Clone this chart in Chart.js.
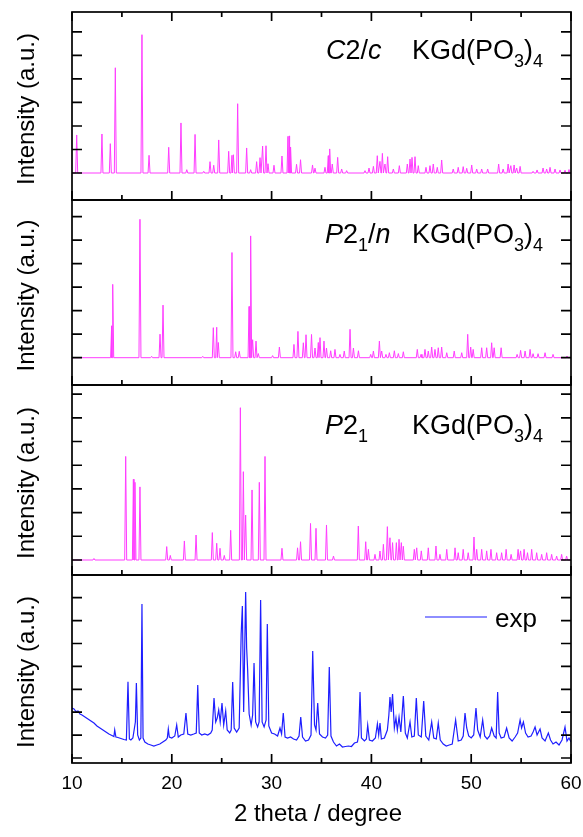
<!DOCTYPE html>
<html>
<head>
<meta charset="utf-8">
<title>KGd(PO3)4 XRD patterns</title>
<script src="https://cdn.jsdelivr.net/npm/chart.js@4/dist/chart.umd.min.js"></script>
<style>
  html, body { margin: 0; padding: 0; background: #ffffff; }
  #wrap { position: relative; width: 583px; height: 837px; }
  canvas { display: block; }
</style>
</head>
<body>
<div id="wrap"><canvas id="xrd" width="583" height="837"></canvas></div>
<script>
// ---- calculated patterns: [2theta (deg), relative intensity (%)] ----
const c2cPeaks = [
  [10.47, 27.5], [13.00, 28.2], [13.84, 21.2], [14.34, 76.1], [17.01, 100], [17.72, 12.8],
  [19.69, 18.6], [20.92, 36.2], [21.50, 2.4], [22.33, 27.9], [23.20, 1.2], [23.83, 8.2],
  [24.20, 5.6], [24.70, 23.9], [25.70, 15.7], [26.03, 12.8], [26.17, 13.2], [26.60, 50.1],
  [27.50, 18.1], [27.90, 2.4], [28.50, 8.2], [28.84, 11.1], [29.10, 19.5], [29.44, 19.7],
  [29.64, 6.7], [30.24, 5.6], [31.04, 12.3], [31.64, 26.5], [31.77, 26.8], [31.90, 18.8],
  [32.50, 6.3], [32.90, 9.6], [34.10, 5.8], [34.35, 3.5], [35.35, 4.1], [35.68, 12.5],
  [35.82, 17.4], [36.08, 6.5], [36.62, 11.3], [37.02, 2.9], [37.52, 1.7], [39.36, 1.7],
  [39.76, 3.6], [40.20, 4.8], [40.59, 12.5], [40.86, 8.4], [41.10, 14.2], [41.36, 6.5],
  [41.63, 11.8], [42.20, 2.9], [42.80, 5.3], [43.60, 6.5], [43.87, 10.1], [44.07, 11.3],
  [44.37, 11.8], [44.70, 5.3], [45.47, 4.1], [45.87, 5.3], [46.20, 6.5], [46.60, 4.1],
  [47.04, 9.4], [48.20, 2.9], [48.70, 4.1], [49.20, 4.6], [49.55, 3.4], [50.05, 5.8],
  [50.55, 2.9], [51.05, 2.9], [51.65, 2.9], [52.75, 6.5], [53.20, 2.9], [53.70, 6.5],
  [53.97, 5.3], [54.30, 5.8], [54.56, 3.6], [54.90, 4.8], [56.20, 1.2], [56.60, 2.2],
  [57.20, 3.6], [57.56, 2.9], [57.90, 4.1], [58.40, 2.9], [58.90, 2.2], [59.40, 2.0],
  [59.80, 2.5]
];

const p21nPeaks = [
  [13.97, 23], [14.08, 53], [16.81, 100], [17.98, 1], [18.82, 17], [19.12, 38],
  [23.10, 1], [24.16, 21.7], [24.50, 22], [24.66, 11], [26.03, 76], [26.40, 4.3],
  [26.76, 4.6], [27.74, 37], [27.90, 88], [28.10, 13], [28.44, 12], [28.67, 3],
  [30.10, 1.5], [30.78, 7.7], [32.24, 9.6], [32.64, 19], [33.18, 10.8], [33.45, 16.6],
  [34.00, 16.8], [34.35, 7], [34.68, 11], [34.85, 14.5], [35.25, 12], [35.50, 7],
  [35.92, 5], [36.35, 6], [36.85, 2.4], [37.28, 4.8], [37.86, 20.5], [38.20, 7],
  [38.70, 5], [39.93, 2.4], [40.20, 4.8], [40.80, 12], [41.03, 4.8], [41.46, 2.4],
  [41.80, 3.6], [42.30, 5], [42.70, 3], [43.20, 4.3], [44.60, 6], [44.97, 2.4],
  [45.37, 6], [45.70, 4.8], [46.04, 7.7], [46.37, 6], [46.70, 7.2], [47.04, 7.7],
  [47.55, 3.6], [48.30, 4.8], [49.05, 3.6], [49.65, 16.9], [49.95, 7.7], [50.20, 6],
  [51.05, 7.2], [51.55, 7.2], [52.05, 10.8], [52.30, 7.2], [53.00, 7.2], [54.60, 2.4],
  [54.95, 5.3], [55.40, 4.8], [55.90, 6], [56.20, 2.9], [56.70, 2.9], [57.40, 3.6],
  [58.20, 2.4], [59.60, 1.2]
];

const p21Peaks = [
  [12.20, 1], [15.38, 68], [16.15, 53], [16.31, 51], [16.81, 48], [19.49, 8.8],
  [19.85, 3], [21.26, 12.5], [22.43, 16.4], [24.06, 18], [24.50, 11], [24.83, 7.7],
  [25.26, 3], [25.90, 19.5], [26.87, 100], [27.17, 58], [27.40, 29.5], [28.04, 46],
  [28.77, 51], [29.34, 68], [31.04, 7.7], [32.60, 8], [32.90, 12], [33.90, 24],
  [34.45, 20.8], [35.50, 23], [36.20, 2.6], [38.69, 22.3], [39.43, 12], [39.70, 7],
  [40.36, 3.7], [40.86, 5.9], [41.20, 10.3], [41.60, 21.9], [41.86, 14.6], [42.12, 11.4],
  [42.50, 11.4], [42.77, 13.6], [43.00, 11.4], [43.20, 9], [44.30, 7], [44.54, 8],
  [45.00, 6], [45.70, 8], [46.47, 9.2], [46.87, 3.7], [47.55, 7], [48.38, 8],
  [48.70, 4.8], [49.20, 7], [49.70, 4.8], [50.28, 15.1], [50.55, 7], [51.05, 7],
  [51.55, 6], [51.98, 7], [52.55, 4.8], [53.05, 4.8], [53.50, 7], [54.00, 3.7],
  [54.70, 7], [54.95, 6], [55.30, 7], [55.64, 4.8], [56.06, 7], [56.56, 4.8],
  [57.06, 3.7], [57.56, 4.8], [58.06, 3.7], [58.56, 2.6], [59.06, 3.7], [59.56, 2.6]
];

// ---- measured pattern ----
const expTheta = [
  10.0, 10.2, 10.4, 10.6, 10.8, 11.0, 11.3, 11.6, 11.9, 12.2, 12.5, 12.8, 13.1, 13.4, 13.7, 14.0,
  14.2, 14.28, 14.4, 14.6, 14.9, 15.2, 15.45, 15.61, 15.75, 15.9, 16.1, 16.35, 16.45, 16.58, 16.75, 16.9,
  17.01, 17.12, 17.3, 17.6, 17.9, 18.2, 18.5, 18.8, 19.1, 19.4, 19.55, 19.65, 19.75, 20.0, 20.3, 20.49,
  20.65, 20.9, 21.2, 21.42, 21.6, 21.9, 22.2, 22.45, 22.6, 22.75, 23.0, 23.3, 23.6, 23.9, 24.05, 24.23,
  24.4, 24.55, 24.7, 24.85, 25.03, 25.2, 25.4, 25.55, 25.8, 25.95, 26.1, 26.25, 26.5, 26.75, 26.95, 27.07,
  27.2, 27.4, 27.5, 27.6, 27.75, 27.95, 28.1, 28.24, 28.4, 28.6, 28.75, 28.9, 29.05, 29.25, 29.45, 29.57,
  29.72, 30.0, 30.3, 30.6, 30.84, 31.0, 31.17, 31.35, 31.6, 31.9, 32.2, 32.5, 32.75, 32.92, 33.1, 33.4,
  33.7, 33.95, 34.12, 34.3, 34.45, 34.62, 34.8, 35.1, 35.4, 35.62, 35.78, 35.95, 36.2, 36.5, 36.8, 37.1,
  37.4, 37.7, 38.0, 38.3, 38.6, 38.72, 38.86, 39.0, 39.3, 39.5, 39.63, 39.8, 40.1, 40.4, 40.6, 40.73,
  40.86, 41.0, 41.3, 41.6, 41.75, 41.86, 41.98, 42.12, 42.3, 42.46, 42.6, 42.77, 42.95, 43.2, 43.4, 43.6,
  43.87, 44.05, 44.3, 44.5, 44.7, 45.0, 45.24, 45.45, 45.75, 46.04, 46.25, 46.5, 46.7, 46.9, 47.2, 47.5,
  47.8, 48.1, 48.44, 48.7, 49.0, 49.2, 49.38, 49.55, 49.75, 50.0, 50.25, 50.48, 50.65, 50.9, 51.15, 51.35,
  51.6, 51.85, 52.05, 52.3, 52.5, 52.65, 52.8, 53.0, 53.3, 53.55, 53.8, 54.1, 54.4, 54.65, 54.9, 55.05,
  55.23, 55.45, 55.7, 56.0, 56.2, 56.4, 56.6, 56.9, 57.1, 57.4, 57.73, 57.95, 58.2, 58.5, 58.8, 59.1,
  59.4, 59.6, 59.8, 60.0
];
const expCounts = [
  500, 490, 465, 470, 440, 430, 410, 390, 370, 350, 320, 300, 280, 260, 240, 225,
  215, 280, 210, 205, 195, 185, 180, 763, 190, 180, 200, 360, 750, 230, 180, 200,
  1540, 200, 160, 140, 130, 120, 130, 140, 160, 180, 200, 290, 210, 200, 220, 330,
  210, 230, 240, 450, 240, 230, 240, 250, 730, 250, 230, 240, 230, 250, 280, 600,
  360, 400, 480, 360, 550, 330, 470, 280, 250, 280, 760, 300, 260, 300, 1240, 1520,
  460, 1660, 1100, 880, 440, 330, 430, 950, 360, 310, 360, 1580, 360, 310, 380, 1340,
  320, 250, 240, 220, 300, 240, 450, 210, 200, 210, 190, 180, 220, 410, 210, 170,
  180, 230, 1070, 330, 280, 550, 240, 210, 200, 230, 910, 220, 160, 120, 140, 110,
  115, 120, 115, 150, 160, 230, 660, 200, 170, 190, 330, 180, 170, 200, 340, 230,
  350, 190, 200, 280, 430, 610, 460, 640, 300, 400, 280, 410, 260, 620, 250, 200,
  360, 210, 220, 600, 230, 210, 570, 220, 180, 360, 200, 190, 350, 180, 140, 120,
  130, 140, 380, 170, 180, 220, 450, 300, 220, 200, 230, 500, 280, 210, 380, 220,
  190, 220, 300, 220, 200, 660, 250, 200, 210, 300, 200, 170, 210, 250, 380, 300,
  360, 250, 210, 220, 260, 310, 230, 290, 200, 170, 250, 180, 140, 160, 130, 180,
  310, 170, 200, 160
];

// ---- axis tick values ----
const xTickLabels = [10, 20, 30, 40, 50, 60];
const xMinorTicks = [15, 25, 35, 45, 55];
const c2cTicks  = [0, 17, 34, 51, 68, 85, 102];
const p21nTicks = [0, 17, 34, 51, 68, 85, 102];
const p21Ticks  = [0, 15.6, 31.1, 46.7, 62.2, 77.8, 93.3, 108.9];
const expTicks  = [0, 229, 458, 687, 916, 1145, 1374, 1603];

// ---- layout: the four stacked panels share one plot area ----
const AREA = { left: 72, right: 571, top: 12, bottom: 763 };
const panels = [
  { axis: 'yC2c',  top: 12,  bottom: 200, base: 173,   pxPerUnit: 1.383, ticks: c2cTicks,  topTicks: true },
  { axis: 'yP21n', top: 200, bottom: 385, base: 357.7, pxPerUnit: 1.384, ticks: p21nTicks, topTicks: false },
  { axis: 'yP21',  top: 385, bottom: 575, base: 560,   pxPerUnit: 1.523, ticks: p21Ticks,  topTicks: false },
  { axis: 'yExp',  top: 575, bottom: 763, base: 758,   pxPerUnit: 0.1,   ticks: expTicks,  topTicks: false }
];

const FONT = '"Liberation Sans", Arial, Helvetica, sans-serif';
const MAGENTA = '#ff3cff';
const BLUE = '#1e1eff';

// narrow stick profile for each calculated reflection
function stickPattern(peaks) {
  const hw = 0.1;
  const pts = [{ x: 10, y: 0 }];
  peaks.forEach(([t, h]) => {
    pts.push({ x: t - hw, y: 0 }, { x: t, y: h }, { x: t + hw, y: 0 });
  });
  pts.push({ x: 60, y: 0 });
  return pts.sort((a, b) => a.x - b.x);
}

const expPoints = expTheta.map((t, i) => ({ x: t, y: expCounts[i] }));

function axisRange(p) {
  return {
    min: -(AREA.bottom - p.base) / p.pxPerUnit,
    max: (p.base - AREA.top) / p.pxPerUnit
  };
}

const scales = {
  x: { type: 'linear', min: 10, max: 60, display: false }
};
panels.forEach(p => {
  const r = axisRange(p);
  scales[p.axis] = { type: 'linear', display: false, min: r.min, max: r.max };
});

// rich text helper: runs of { t, it, sub }
function drawRuns(ctx, x, y, runs, size) {
  let cx = x;
  runs.forEach(r => {
    const fs = r.sub ? Math.round(size * 0.65) : size;
    ctx.font = (r.it ? 'italic ' : '') + fs + 'px ' + FONT;
    ctx.fillText(r.t, cx, r.sub ? y + 8 : y);
    cx += ctx.measureText(r.t).width;
  });
}

const annotations = [
  { x: 326, y: 59, runs: [{ t: 'C', it: true }, { t: '2/' }, { t: 'c', it: true }] },
  { x: 325, y: 243, runs: [{ t: 'P', it: true }, { t: '2' }, { t: '1', sub: true }, { t: '/' }, { t: 'n', it: true }] },
  { x: 325, y: 434, runs: [{ t: 'P', it: true }, { t: '2' }, { t: '1', sub: true }] }
];
const formula = [{ t: 'KGd(PO' }, { t: '3', sub: true }, { t: ')' }, { t: '4', sub: true }];
const formulaRows = [59, 243, 434];

const framePlugin = {
  id: 'panelFrames',
  afterDatasetsDraw(chart) {
    const ctx = chart.ctx;
    const xs = chart.scales.x;
    const { left, right } = chart.chartArea;
    ctx.save();
    ctx.strokeStyle = '#000';
    ctx.lineWidth = 1.7;
    ctx.lineCap = 'butt';

    panels.forEach(p => {
      const ys = chart.scales[p.axis];
      ctx.strokeRect(left, p.top, right - left, p.bottom - p.top);
      ctx.beginPath();
      p.ticks.forEach(v => {
        const y = ys.getPixelForValue(v);
        ctx.moveTo(left, y); ctx.lineTo(left + 10, y);
        ctx.moveTo(right, y); ctx.lineTo(right - 10, y);
      });
      xTickLabels.forEach(v => {
        const x = xs.getPixelForValue(v);
        ctx.moveTo(x, p.bottom); ctx.lineTo(x, p.bottom - 9);
        if (p.topTicks) { ctx.moveTo(x, p.top); ctx.lineTo(x, p.top + 9); }
      });
      xMinorTicks.forEach(v => {
        const x = xs.getPixelForValue(v);
        ctx.moveTo(x, p.bottom); ctx.lineTo(x, p.bottom - 5);
        if (p.topTicks) { ctx.moveTo(x, p.top); ctx.lineTo(x, p.top + 5); }
      });
      ctx.stroke();

      // rotated y-axis title
      ctx.save();
      ctx.fillStyle = '#000';
      ctx.font = '24px ' + FONT;
      ctx.textAlign = 'center';
      ctx.textBaseline = 'alphabetic';
      ctx.translate(34, (p.top + p.bottom) / 2 + 3);
      ctx.rotate(-Math.PI / 2);
      ctx.fillText('Intensity (a.u.)', 0, 0);
      ctx.restore();
    });

    // x tick labels and title
    ctx.fillStyle = '#000';
    ctx.font = '19px ' + FONT;
    ctx.textAlign = 'center';
    ctx.textBaseline = 'middle';
    xTickLabels.forEach(v => ctx.fillText(String(v), xs.getPixelForValue(v), 784));
    ctx.font = '24px ' + FONT;
    ctx.textBaseline = 'alphabetic';
    ctx.fillText('2 theta / degree', 318, 821);

    // phase labels
    ctx.textAlign = 'left';
    annotations.forEach(a => drawRuns(ctx, a.x, a.y, a.runs, 27));
    formulaRows.forEach(y => drawRuns(ctx, 412, y, formula, 27));

    // legend of the measured pattern
    ctx.strokeStyle = BLUE;
    ctx.lineWidth = 1.2;
    ctx.beginPath();
    ctx.moveTo(425, 617); ctx.lineTo(487, 617);
    ctx.stroke();
    ctx.font = '26px ' + FONT;
    ctx.fillText('exp', 495, 627);
    ctx.restore();
  }
};

new Chart(document.getElementById('xrd'), {
  type: 'line',
  data: {
    datasets: [
      { label: 'C2/c',  data: stickPattern(c2cPeaks),  yAxisID: 'yC2c',  borderColor: MAGENTA, borderWidth: 1 },
      { label: 'P21/n', data: stickPattern(p21nPeaks), yAxisID: 'yP21n', borderColor: MAGENTA, borderWidth: 1 },
      { label: 'P21',   data: stickPattern(p21Peaks),  yAxisID: 'yP21',  borderColor: MAGENTA, borderWidth: 1 },
      { label: 'exp',   data: expPoints,               yAxisID: 'yExp',  borderColor: BLUE,    borderWidth: 1.2 }
    ]
  },
  options: {
    responsive: false,
    animation: false,
    devicePixelRatio: 1,
    layout: { padding: { left: AREA.left, right: 583 - AREA.right, top: AREA.top, bottom: 837 - AREA.bottom } },
    elements: {
      point: { radius: 0, hoverRadius: 0 },
      line: { tension: 0, fill: false }
    },
    plugins: { legend: { display: false }, tooltip: { enabled: false } },
    scales: scales
  },
  plugins: [framePlugin]
});
</script>
</body>
</html>
